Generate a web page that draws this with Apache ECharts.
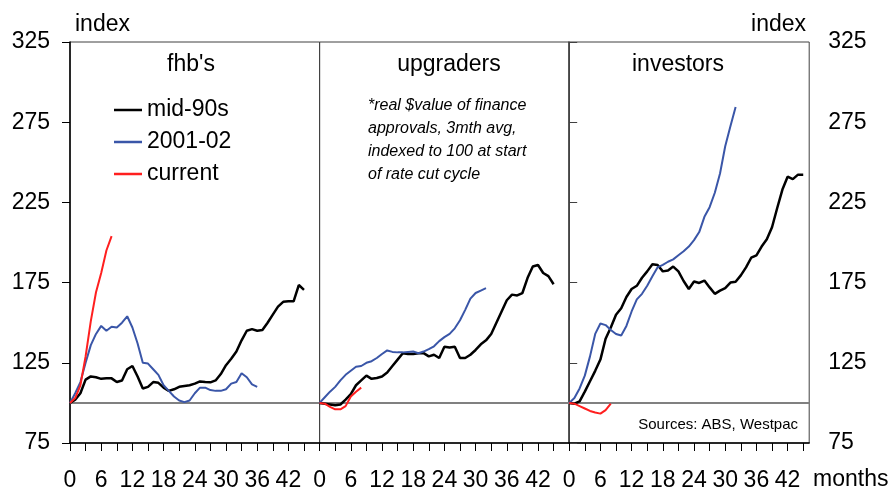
<!DOCTYPE html>
<html>
<head>
<meta charset="utf-8">
<script src="https://cdn.jsdelivr.net/npm/echarts@6/dist/echarts.min.js"></script>
<style>
  html, body { margin: 0; padding: 0; background: #fff; }
  #chart { width: 892px; height: 492px; }
</style>
</head>
<body>
<div id="chart"></div>
<script>
// index values by month since start of rate cut cycle (month = array position)
const fhbMid90s = [100,102,106,114.5,116.5,116,115,115.3,115.3,113,114,121,123,116.5,109,110,113,112.5,109.5,107.5,108.5,110,110.5,111,112,113.4,113,112.8,114,118,123.5,127.5,132,139,145,146,145,145.5,150,155,160,163,163.3,163.3,173.5,170.5]
const fhb2001 = [100,106,113,125,136,143,148,145,147.5,147,150,154,147,137,125,124.5,121,117.5,111,107.5,104,101.5,100.5,101.5,106,109.5,109.5,108,107.5,107.5,108.5,112,113,118.5,116,111.5,110]
const fhbCurrent = [100,103,111,129,151,169,181,195,204]

const upgMid90s = [100,99.5,99,98.5,99,102,105.5,111,114,117,115,115.5,116.5,119,123,127,131,130.5,130.5,131,131,129,130,128,135,134.5,135,128,128,130,133,136.5,139,143,150,157,164,167.5,167,168.5,178,185,186,181,179,174]
const upg2001 = [100,103.5,107,110,114,117.5,120,122.5,123,125,126,128,130.5,132.7,131.8,131.5,131.5,131.8,132,131,132,133.5,135.3,138.5,141,143,146.5,151.5,158,165,168.5,170,171.5]
const upgCurrent = [100,99.5,97.5,96,96,98,104,107,109.5]

const invMid90s = [100,99.5,101,107,113.5,120,127,140,147,155,159,166,171,173,178,182,186.5,186,182,182.5,185,182,176,171,175.7,174.8,176.3,172,168,170,171.6,175,175.5,179.5,184.5,190.5,192,197.5,202,209.5,221.5,233,241,239.5,242.3,242.3]
const inv2001 = [100,103,109,117,129,143,149.5,148.5,145.5,143,142,148,157,164.5,168,173,179,184.5,186,188,189.5,192,194.5,197.5,201.5,206.5,216,222,231,243,260,272.5,284.5]
const invCurrent = [100,99.5,98,96.5,95,94,93.3,95.5,99.5]

const panelTitles = ["fhb's", 'upgraders', 'investors']
const seriesNames = ['mid-90s', '2001-02', 'current']
const monthTicks = [0,3,6,9,12,15,18,21,24,27,30,33,36,39,42,45,48]
const monthLabels = [0,6,12,18,24,30,36,42]
const indexTicks = [75,125,175,225,275,325]
const rightTicks = [75,100,125,175,225,275,325]

const panels = [
  [fhbMid90s, fhb2001, fhbCurrent],
  [upgMid90s, upg2001, upgCurrent],
  [invMid90s, inv2001, invCurrent]
]

const colors = ['#000000', '#3a56a8', '#ff1f1f']
const widths = [2.5, 2, 2]
const FONT = '"Liberation Sans", Arial, sans-serif'

const chart = echarts.init(document.getElementById('chart'))

const grids = [
  { left: 70, top: 42, width: 249.6, bottom: 49 },
  { left: 319.6, top: 42, width: 249.6, bottom: 49 },
  { left: 569.2, top: 42, width: 240, bottom: 49 }
].map(g => Object.assign(g, { show: true, borderColor: '#404040', borderWidth: 1, containLabel: false }))

const xMax = [48, 48, 46.15]

const xAxes = xMax.map((mx, i) => ({
  type: 'value',
  gridIndex: i,
  min: 0,
  max: mx,
  splitLine: { show: false },
  axisLine: { show: true, onZero: false, lineStyle: { color: '#000', width: 1.5 } },
  axisTick: { show: true, inside: false, length: 8, customValues: monthTicks.filter(v => v <= mx), lineStyle: { color: '#000' } },
  axisLabel: { customValues: monthLabels, fontSize: 23, color: '#000', fontFamily: FONT, margin: 26 }
}))

const yAxes = [0, 1, 2].map(i => ({
  type: 'value',
  gridIndex: i,
  min: 75,
  max: 325,
  show: i !== 1,
  position: i === 2 ? 'right' : 'left',
  splitLine: { show: false },
  axisLine: { show: true, lineStyle: { color: i === 0 ? '#000' : '#404040', width: 1.5 } },
  axisTick: { show: true, inside: false, length: 8, customValues: i === 2 ? rightTicks : indexTicks, lineStyle: { color: i === 0 ? '#000' : '#404040' } },
  axisLabel: { customValues: indexTicks, fontSize: 23, color: '#000', fontFamily: FONT, margin: i === 0 ? 20 : 19 }
}))

const series = []
panels.forEach((lines, p) => {
  lines.forEach((vals, k) => {
    const s = {
      name: seriesNames[k],
      type: 'line',
      xAxisIndex: p,
      yAxisIndex: p,
      data: vals.map((v, m) => [m, v]),
      showSymbol: false,
      symbol: 'none',
      animation: false,
      lineStyle: { color: colors[k], width: widths[k] },
      itemStyle: { color: colors[k] },
      z: 3 + k
    }
    if (k === 0) {
      // base level line at 100
      s.markLine = {
        silent: true,
        symbol: 'none',
        label: { show: false },
        lineStyle: { color: '#808080', width: 2, type: 'solid' },
        data: [{ yAxis: 100 }],
        z: 1
      }
    }
    series.push(s)
  })
})

const titleX = [191, 449, 678]

const graphics = panelTitles.map((t, i) => ({
  type: 'text',
  style: { text: t, x: titleX[i], y: 64.5, align: 'center', verticalAlign: 'middle', fontSize: 23, fontFamily: FONT, fill: '#000' }
}))

graphics.push(
  { type: 'text', style: { text: 'index', x: 75, y: 25, align: 'left', verticalAlign: 'middle', fontSize: 23, fontFamily: FONT, fill: '#000' } },
  { type: 'text', style: { text: 'index', x: 806, y: 25, align: 'right', verticalAlign: 'middle', fontSize: 23, fontFamily: FONT, fill: '#000' } },
  { type: 'text', style: { text: 'months', x: 813, y: 480, align: 'left', verticalAlign: 'middle', fontSize: 23, fontFamily: FONT, fill: '#000' } },
  { type: 'text', style: { text: 'Sources: ABS, Westpac', x: 798, y: 425, align: 'right', verticalAlign: 'middle', fontSize: 15, fontFamily: FONT, fill: '#000' } },
  { type: 'text', style: {
      text: '*real $value of finance\napprovals, 3mth avg,\nindexed to 100 at start\nof rate cut cycle',
      x: 368, y: 94, align: 'left', verticalAlign: 'top', lineHeight: 23,
      fontSize: 16, fontStyle: 'italic', fontFamily: FONT, fill: '#000' } }
)

const option = {
  animation: false,
  backgroundColor: '#fff',
  grid: grids,
  xAxis: xAxes,
  yAxis: yAxes,
  legend: {
    data: seriesNames,
    orient: 'vertical',
    left: 114,
    top: 98.5,
    padding: 0,
    itemGap: 9,
    itemWidth: 28,
    itemHeight: 2.5,
    icon: 'rect',
    textStyle: { fontSize: 23, lineHeight: 23, color: '#000', fontFamily: FONT }
  },
  graphic: graphics,
  series: series
}

chart.setOption(option)
</script>
</body>
</html>
